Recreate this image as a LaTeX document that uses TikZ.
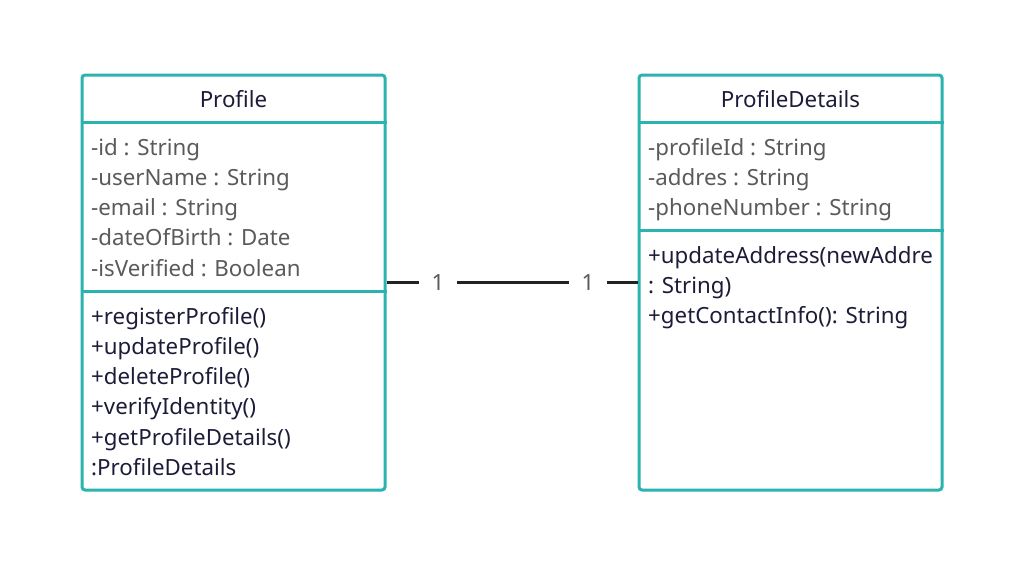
\documentclass[tikz,border=0pt]{standalone}
\usepackage{fontspec}
\setmainfont{Noto Sans}
\usetikzlibrary{positioning}
\definecolor{teal}{HTML}{2AB3AF}
\definecolor{ink}{HTML}{1C1C38}
\definecolor{grayink}{HTML}{5A5A5A}
\definecolor{linkink}{HTML}{222222}
\tikzset{
  classbox/.style={draw=teal,line width=3pt,rounded corners=3pt,minimum width=303pt,minimum height=415pt,inner sep=0pt},
  sepline/.style={draw=teal,line width=3pt},
  title/.style={font=\fontsize{22.3}{26}\selectfont,text=ink,inner sep=0pt,anchor=base},
  attr/.style={font=\fontsize{22.3}{26}\selectfont,text=grayink,inner sep=0pt,anchor=base west},
  meth/.style={font=\fontsize{22.3}{26}\selectfont,text=ink,inner sep=0pt,anchor=base west},
  mult/.style={font=\fontsize{22.3}{26}\selectfont,text=grayink,fill=white,inner xsep=13pt,inner ysep=2pt}
}
\begin{document}
\begin{tikzpicture}[x=1pt,y=-1pt]
    \useasboundingbox[fill=white] (0,0) rectangle (1013,562);

    % Class boxes
    \node[classbox] (profile) at (233.5,282.5) {};
    \node[classbox] (details) at (790.5,282.5) {};

    % Compartment lines
    \draw[sepline] (profile.west |- 0,122) -- (profile.east |- 0,122);
    \draw[sepline] (profile.west |- 0,291) -- (profile.east |- 0,291);
    \draw[sepline] (details.west |- 0,122) -- (details.east |- 0,122);
    \draw[sepline] (details.west |- 0,230) -- (details.east |- 0,230);

    % Class names
    \node[title] (profileName) at (233.5,107) {Profile};
    \node[title] (detailsName) at (790.5,107) {ProfileDetails};

    % Profile attributes
    \node[attr] (pa1) at (91,155) {-id : String};
    \node[attr] (pa2) at (91,185.3) {-userName : String};
    \node[attr] (pa3) at (91,215.6) {-email : String};
    \node[attr] (pa4) at (91,245.9) {-dateOfBirth : Date};
    \node[attr] (pa5) at (91,276.2) {-isVerified : Boolean};

    % Profile methods
    \node[meth] (pm1) at (91,324) {+registerProfile()};
    \node[meth] (pm2) at (91,354.3) {+updateProfile()};
    \node[meth] (pm3) at (91,384.6) {+deleteProfile()};
    \node[meth] (pm4) at (91,414.9) {+verifyIdentity()};
    \node[meth] (pm5) at (91,445.2) {+getProfileDetails()};
    \node[meth] (pm6) at (91,475.5) {:ProfileDetails};

    % ProfileDetails attributes
    \node[attr] (da1) at (648,155) {-profileId : String};
    \node[attr] (da2) at (648,185.3) {-addres : String};
    \node[attr] (da3) at (648,215.6) {-phoneNumber : String};

    % ProfileDetails methods (cut at the box edge)
    \begin{scope}
      \clip (641,232) rectangle (937,488);
      \node[meth] (dm1) at (648,263) {+updateAddress(newAddre};
    \end{scope}
    \node[meth] (dm2) at (648,293.3) {: String)};
    \node[meth] (dm3) at (648,323.6) {+getContactInfo(): String};

    % Association 1 -- 1
    \draw[line width=3pt,linkink] (profile.east) -- (details.west)
      node[mult,pos=0.205] (m1) {1}
      node[mult,pos=0.803] (m2) {1};
  \end{tikzpicture}
\end{document}
